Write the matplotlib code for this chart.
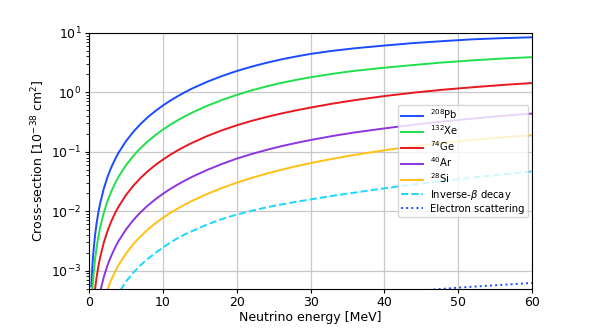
import matplotlib
matplotlib.use("Agg")
import matplotlib.pyplot as plt

# Neutrino energy grid [MeV]
energy = [0.3, 0.4, 0.5, 0.6, 0.8, 1, 1.25, 1.5, 2, 2.5, 3, 3.5, 4, 5, 6, 7, 8, 9, 10,
          11, 12, 13, 14, 16, 18, 20, 22, 24, 26, 28, 30, 33, 36, 40, 44, 48, 52, 56, 60]

# Cross-sections [1e-38 cm^2]
pb208 = [5.45e-4, 9.7e-4, 1.52e-3, 2.18e-3, 3.88e-3, 6.06e-3, 9.47e-3, 1.36e-2, 2.42e-2,
         3.79e-2, 5.45e-2, 7.42e-2, 9.69e-2, 0.151, 0.217, 0.296, 0.386, 0.487, 0.600,
         0.724, 0.860, 1.007, 1.165, 1.505, 1.875, 2.279, 2.698, 3.124, 3.564, 3.991,
         4.418, 4.982, 5.498, 6.109, 6.73, 7.26, 7.78, 8.13, 8.40]
xe132 = [2.14e-4, 3.81e-4, 5.95e-4, 8.57e-4, 1.52e-3, 2.38e-3, 3.72e-3, 5.36e-3, 9.52e-3,
         1.49e-2, 2.14e-2, 2.92e-2, 3.81e-2, 5.95e-2, 0.0855, 0.1163, 0.1517, 0.1916,
         0.2361, 0.2851, 0.3386, 0.3962, 0.4580, 0.594, 0.7426, 0.9044, 1.077, 1.254,
         1.435, 1.614, 1.789, 2.048, 2.298, 2.589, 2.880, 3.180, 3.443, 3.695, 3.898]
ge74 = [6.75e-5, 1.2e-4, 1.875e-4, 2.7e-4, 4.8e-4, 7.5e-4, 1.17e-3, 1.69e-3, 3.0e-3,
        4.69e-3, 6.75e-3, 9.19e-3, 1.2e-2, 1.875e-2, 0.02695, 0.0366, 0.04766, 0.06014,
        0.07388, 0.08912, 0.1056, 0.1233, 0.1423, 0.1839, 0.2296, 0.279, 0.3303, 0.3836,
        0.4391, 0.4957, 0.5535, 0.6452, 0.7387, 0.864, 0.9874, 1.106, 1.217, 1.329, 1.431]
ar40 = [1.78e-5, 3.17e-5, 4.95e-5, 7.13e-5, 1.27e-4, 1.98e-4, 3.09e-4, 4.46e-4, 7.92e-4,
        1.24e-3, 1.78e-3, 2.43e-3, 3.17e-3, 4.95e-3, 7.13e-3, 9.70e-3, 0.01265, 0.01596,
        0.01964, 0.02372, 0.02814, 0.03293, 0.03815, 0.04957, 0.06248, 0.07682, 0.09152,
        0.1072, 0.1238, 0.1405, 0.1577, 0.1844, 0.2117, 0.2471, 0.2856, 0.3239, 0.3614,
        0.4005, 0.4384]
si28 = [7.0e-6, 1.25e-5, 1.95e-5, 2.81e-5, 4.99e-5, 7.8e-5, 1.22e-4, 1.76e-4, 3.12e-4,
        4.88e-4, 7.02e-4, 9.56e-4, 1.25e-3, 1.95e-3, 2.81e-3, 3.82e-3, 4.99e-3, 6.32e-3,
        0.00776, 0.00937, 0.01112, 0.01302, 0.01506, 0.01957, 0.02464, 0.03026, 0.03632,
        0.04282, 0.04972, 0.05699, 0.06458, 0.07645, 0.08876, 0.1061, 0.1238, 0.1413,
        0.1586, 0.1749, 0.1895]

ibd_energy = [3, 3.5, 4, 5, 6, 7, 8, 9, 10, 11, 12, 13, 14, 16, 18, 20, 22, 24, 26, 28,
              30, 33, 36, 40, 44, 48, 52, 56, 60]
ibd = [2.3e-4, 3.2e-4, 4.2e-4, 6.6e-4, 9.3e-4, 1.25e-3, 1.60e-3, 2.00e-3, 2.45e-3,
       2.98e-3, 3.53e-3, 4.09e-3, 4.67e-3, 6.0e-3, 7.4e-3, 8.8e-3, 1.02e-2, 1.16e-2,
       1.30e-2, 1.44e-2, 1.58e-2, 1.82e-2, 2.06e-2, 2.43e-2, 2.83e-2, 3.25e-2, 3.70e-2,
       4.17e-2, 4.67e-2]

e_energy = [10, 20, 30, 40, 50, 60]
e_scatter = [1.04e-4, 2.08e-4, 3.12e-4, 4.16e-4, 5.2e-4, 6.24e-4]

labels = [r"$^{208}$Pb", r"$^{132}$Xe", r"$^{74}$Ge", r"$^{40}$Ar", r"$^{28}$Si"]
colors = ["#1a4cff", "#1fe04a", "#e8181e", "#8c35e0", "#ffc014"]

fig = plt.figure(figsize=(5.9, 3.28), dpi=100)
ax = fig.add_axes([0.151, 0.120, 0.751, 0.780])

for ys, lab, c in zip([pb208, xe132, ge74, ar40, si28], labels, colors):
    ax.plot(energy, ys, color=c, lw=1.4, label=lab)
ax.plot(ibd_energy, ibd, color="#18d8ff", lw=1.4, ls="--", label=r"Inverse-$\beta$ decay")
ax.plot(e_energy, e_scatter, color="#1a4cff", lw=1.4, ls=":", label="Electron scattering")

ax.set_yscale("log")
ax.set_xlim(0, 60)
ax.set_ylim(5e-4, 10)
ax.grid(True, which="major", color="#c8c8c8", lw=0.9)
ax.set_xlabel("Neutrino energy [MeV]", fontsize=9, labelpad=1.5)
ax.set_ylabel(r"Cross-section [10$^{-38}$ cm$^2$]", fontsize=9, labelpad=3)
ax.tick_params(which="major", labelsize=9, length=3, pad=2.5)
ax.tick_params(which="minor", length=2)
ax.legend(loc="center right", fontsize=7.2, labelspacing=0.22, borderpad=0.3,
          handlelength=2.2, handletextpad=0.75, borderaxespad=0.45)

fig.savefig("out.png", dpi=100)
